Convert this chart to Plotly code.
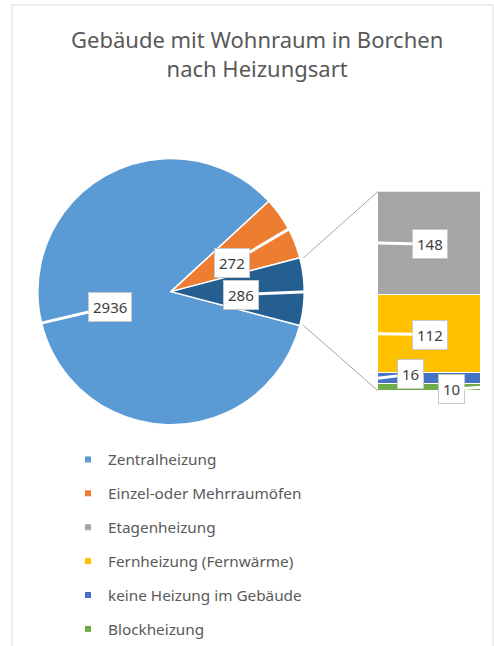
import math
import plotly.graph_objects as go

# ---- data -------------------------------------------------------------
title_text = "Gebäude mit Wohnraum in Borchen<br>nach Heizungsart"

pie_labels = ["Zentralheizung", "Einzel-oder Mehrraumöfen", "Sonstige"]
bar_labels = ["Blockheizung", "keine Heizung im Gebäude",
              "Fernheizung (Fernwärme)", "Etagenheizung"]
bar_values = [10, 16, 112, 148]
pie_main_values = [2936, 272]
pie_values = pie_main_values + [sum(bar_values)]

legend_order = ["Zentralheizung", "Einzel-oder Mehrraumöfen", "Etagenheizung",
                "Fernheizung (Fernwärme)", "keine Heizung im Gebäude", "Blockheizung"]

colors = {
    "Zentralheizung": "#5B9BD5",
    "Einzel-oder Mehrraumöfen": "#ED7D31",
    "Sonstige": "#255E91",
    "Etagenheizung": "#A5A5A5",
    "Fernheizung (Fernwärme)": "#FFC000",
    "keine Heizung im Gebäude": "#4472C4",
    "Blockheizung": "#70AD47",
}

# ---- geometry ---------------------------------------------------------
W, H = 494, 646
FONT = "Noto Sans"
TEXT = "#595959"

pie_cx, pie_cy, pie_r = 171, 300, 137          # pixels (y from top)
pie_dom_x = [(pie_cx - pie_r) / W, (pie_cx + pie_r) / W]
pie_dom_y = [(H - pie_cy - pie_r) / H, (H - pie_cy + pie_r) / H]

bar_x0, bar_x1, bar_top, bar_bot = 378, 481, 197, 402
bar_dom_x = [bar_x0 / W, bar_x1 / W]
bar_dom_y = [(H - bar_bot) / H, (H - bar_top) / H]

total = sum(pie_values)
other_deg = pie_values[-1] / total * 360
rotation = 90 + other_deg / 2               # centre the split slice at 3 o'clock


def pie_point(angle_deg, r=pie_r):
    """paper coords of a point on the pie at a compass angle (clockwise from 12)."""
    a = math.radians(angle_deg)
    return ((pie_cx + r * math.sin(a)) / W, (H - pie_cy + r * math.cos(a)) / H)


# slice angle bounds (compass, clockwise)
bounds = []
start = rotation
for v in pie_values:
    end = start + v / total * 360
    bounds.append((start, end))
    start = end

fig = go.Figure()

fig.add_trace(go.Pie(
    labels=pie_labels, values=pie_values, sort=False, direction="clockwise",
    rotation=rotation, textinfo="none", hoverinfo="label+value",
    marker=dict(colors=[colors[l] for l in pie_labels],
                line=dict(color="white", width=1.5)),
    domain=dict(x=pie_dom_x, y=pie_dom_y), showlegend=False,
))

for lab, val in zip(bar_labels, bar_values):
    fig.add_trace(go.Bar(
        x=[0], y=[val], width=[1], name=lab, showlegend=False,
        marker=dict(color=colors[lab], line=dict(color="white", width=1)),
        xaxis="x", yaxis="y",
    ))

# legend entries
for lab in legend_order:
    fig.add_trace(go.Scatter(
        x=[None], y=[None], mode="markers", name=lab, legendgroup=lab,
        marker=dict(symbol="square", size=6, color=colors[lab]),
        xaxis="x", yaxis="y",
    ))

# connector lines from the split slice to the bar
o_start, o_end = bounds[-1]
p_top = pie_point(o_start)
p_bot = pie_point(o_end)
line_style = dict(color="#A6A6A6", width=1)
shapes = [
    dict(type="line", xref="paper", yref="paper", x0=p_top[0], y0=p_top[1],
         x1=bar_dom_x[0], y1=bar_dom_y[1], line=line_style),
    dict(type="line", xref="paper", yref="paper", x0=p_bot[0], y0=p_bot[1],
         x1=bar_dom_x[0], y1=bar_dom_y[0], line=line_style),
    # chart-area frame
    dict(type="rect", xref="paper", yref="paper", x0=12 / W, x1=493 / W,
         y0=-0.05, y1=(H - 5) / H, line=dict(color="#D9D9D9", width=1),
         fillcolor="rgba(0,0,0,0)", layer="below"),
]

# data callouts
callout = dict(showarrow=True, arrowhead=0, arrowwidth=3, arrowcolor="white",
               bgcolor="white", bordercolor="#C8C8C8", borderwidth=1, borderpad=4,
               font=dict(family=FONT, size=15, color="#404040"), axref="pixel",
               ayref="pixel")
annotations = [
    dict(text=title_text, xref="paper", yref="paper", x=0.52, xanchor="center",
         y=(H - 23) / H, yanchor="top", showarrow=False,
         font=dict(family=FONT, size=22, color=TEXT)),
]

pie_offsets = [(72, -17), (-59, 35), (-67, 3)]
for (s, e), v, (ax, ay) in zip(bounds, pie_values, pie_offsets):
    tx, ty = pie_point((s + e) / 2)
    annotations.append(dict(callout, x=tx, y=ty, xref="paper", yref="paper",
                            text=str(v), ax=ax, ay=ay))

bar_offsets = [(-30, 2, 0.5), (32, -4, -0.5), (52, 1, -0.5), (52, 1, -0.5)]
cum = 0
for v, (ax, ay, edge) in zip(bar_values, bar_offsets):
    annotations.append(dict(callout, x=edge, y=cum + v / 2, xref="x", yref="y",
                            text=str(v), ax=ax, ay=ay))
    cum += v

fig.update_layout(
    width=W, height=H, margin=dict(l=0, r=0, t=0, b=0),
    paper_bgcolor="white", plot_bgcolor="white",
    barmode="stack", bargap=0,
    xaxis=dict(domain=bar_dom_x, range=[-0.5, 0.5], visible=False, fixedrange=True),
    yaxis=dict(domain=bar_dom_y, range=[0, sum(bar_values)], visible=False,
               fixedrange=True),
    legend=dict(x=68 / W, xanchor="left", y=(H - 456) / H, yanchor="top",
                traceorder="grouped", tracegroupgap=11,
                font=dict(family=FONT, size=15.3, color=TEXT),
                bgcolor="rgba(0,0,0,0)"),
    shapes=shapes, annotations=annotations,
)

fig.write_html("out.html")
